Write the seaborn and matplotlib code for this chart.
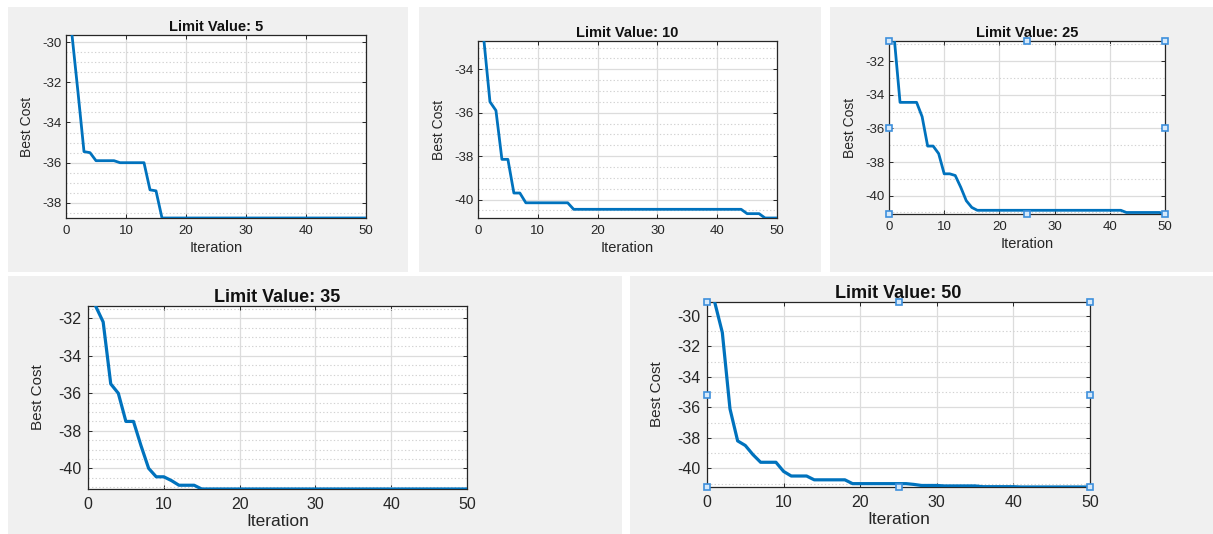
import numpy as np
import pandas as pd
import seaborn as sns
import matplotlib
matplotlib.use("Agg")
import matplotlib.pyplot as plt
from matplotlib.patches import Rectangle
from matplotlib.ticker import MultipleLocator

# ---------------- data ----------------
iterations = list(range(1, 51))

limit_values = [5, 10, 25, 35, 50]

cost_lv5 = [-29.65, -32.5, -35.45, -35.5, -35.9, -35.9, -35.9, -35.9, -36.0, -36.0,
            -36.0, -36.0, -36.0, -37.35, -37.4, -38.75, -38.75, -38.75, -38.75, -38.75,
            -38.75, -38.75, -38.75, -38.75, -38.75, -38.75, -38.75, -38.75, -38.75, -38.75,
            -38.75, -38.75, -38.75, -38.75, -38.75, -38.75, -38.75, -38.75, -38.75, -38.75,
            -38.75, -38.75, -38.75, -38.75, -38.75, -38.75, -38.75, -38.75, -38.75, -38.75]

cost_lv10 = [-32.7, -35.5, -35.9, -38.15, -38.15, -39.7, -39.7, -40.15, -40.15, -40.15,
             -40.15, -40.15, -40.15, -40.15, -40.15, -40.45, -40.45, -40.45, -40.45, -40.45,
             -40.45, -40.45, -40.45, -40.45, -40.45, -40.45, -40.45, -40.45, -40.45, -40.45,
             -40.45, -40.45, -40.45, -40.45, -40.45, -40.45, -40.45, -40.45, -40.45, -40.45,
             -40.45, -40.45, -40.45, -40.45, -40.65, -40.65, -40.65, -40.85, -40.85, -40.85]

cost_lv25 = [-30.8, -34.45, -34.45, -34.45, -34.45, -35.3, -37.05, -37.05, -37.5, -38.7,
             -38.7, -38.8, -39.5, -40.3, -40.7, -40.87, -40.87, -40.87, -40.87, -40.87,
             -40.87, -40.87, -40.87, -40.87, -40.87, -40.87, -40.87, -40.87, -40.87, -40.87,
             -40.87, -40.87, -40.87, -40.87, -40.87, -40.87, -40.87, -40.87, -40.87, -40.87,
             -40.87, -40.87, -41.0, -41.0, -41.0, -41.0, -41.0, -41.0, -41.0, -41.09]

cost_lv35 = [-31.35, -32.2, -35.5, -36.0, -37.5, -37.5, -38.8, -40.0, -40.45, -40.45,
             -40.65, -40.9, -40.9, -40.9, -41.1, -41.1, -41.1, -41.1, -41.1, -41.1,
             -41.1, -41.1, -41.1, -41.1, -41.1, -41.1, -41.1, -41.1, -41.1, -41.1,
             -41.1, -41.1, -41.1, -41.1, -41.1, -41.1, -41.1, -41.1, -41.1, -41.1,
             -41.1, -41.1, -41.1, -41.1, -41.1, -41.1, -41.1, -41.1, -41.1, -41.1]

cost_lv50 = [-29.1, -31.1, -36.1, -38.2, -38.5, -39.1, -39.6, -39.6, -39.6, -40.2,
             -40.5, -40.5, -40.5, -40.75, -40.75, -40.75, -40.75, -40.75, -41.0, -41.0,
             -41.0, -41.0, -41.0, -41.0, -41.0, -41.0, -41.05, -41.12, -41.12, -41.12,
             -41.15, -41.15, -41.15, -41.15, -41.15, -41.2, -41.2, -41.2, -41.2, -41.2,
             -41.22, -41.22, -41.22, -41.22, -41.22, -41.22, -41.22, -41.22, -41.22, -41.22]

x_ticks = [0, 10, 20, 30, 40, 50]

# ---------------- style ----------------
sns.set_theme(style="white")
plt.rcParams['font.family'] = ['Liberation Sans', 'DejaVu Sans']
plt.rcParams['axes.unicode_minus'] = False

W, H = 1213, 534
fig = plt.figure(figsize=(W / 100, H / 100), dpi=100)
fig.patch.set_facecolor("white")

LINE = "#0072BD"
PANEL = "#f0f0f0"
AXC = "#262626"

# gray panel backgrounds (pixel boxes: left, top, right, bottom)
panels_px = [(8, 7, 408, 272), (419, 7, 821, 272), (830, 7, 1213, 272),
             (8, 276, 622, 534), (630, 276, 1213, 534)]
for (l, t, r, b) in panels_px:
    fig.add_artist(Rectangle((l / W, 1 - b / H), (r - l) / W, (b - t) / H,
                             transform=fig.transFigure, facecolor=PANEL,
                             edgecolor="none", zorder=0))

# axes boxes in pixels (left, top, right, bottom)
axes_px = [(66, 35, 366, 218), (478, 41, 777, 218), (889, 41, 1165, 214),
           (88, 306, 467, 489), (707, 302, 1090, 487)]
series = [cost_lv5, cost_lv10, cost_lv25, cost_lv35, cost_lv50]
minor_steps = [0.5, 0.5, 1.0, 0.5, 1.0]
handles = [False, False, True, False, True]
big = [False, False, False, True, True]

for lv, vals, box, mstep, hd, bg in zip(limit_values, series, axes_px,
                                          minor_steps, handles, big):
    l, t, r, b = box
    ax = fig.add_axes([l / W, 1 - b / H, (r - l) / W, (b - t) / H])
    ax.set_facecolor("white")
    df = pd.DataFrame({"Iteration": iterations, "Best Cost": vals})
    sns.lineplot(data=df, x="Iteration", y="Best Cost", ax=ax, color=LINE,
                 linewidth=2.3 if bg else 2.0, zorder=5)
    ax.set_xlim(0, 50)
    ax.set_ylim(min(vals), max(vals))
    ax.set_xticks(x_ticks)
    ax.yaxis.set_major_locator(MultipleLocator(2))
    ax.yaxis.set_minor_locator(MultipleLocator(mstep))
    ax.grid(True, which="major", color="#dcdcdc", linewidth=0.9, zorder=0)
    ax.grid(True, which="minor", axis="y", color="#d2d2d2", linewidth=0.8,
            linestyle=(0, (1.2, 2.0)), zorder=0)
    ax.set_axisbelow(True)
    for s in ax.spines.values():
        s.set_visible(True)
        s.set_color(AXC)
        s.set_linewidth(0.9)
    fs_tick = 11.5 if bg else 9.5
    fs_lab = 12.5 if bg else 10.5
    fs_ylab = 11 if bg else 10
    fs_title = 13 if bg else 10.5
    ax.tick_params(axis="both", which="major", direction="in", length=3,
                   width=0.7, color=AXC, labelcolor=AXC, labelsize=fs_tick,
                   top=True, right=True, bottom=True, left=True, pad=3)
    ax.tick_params(axis="x", which="major", pad=6 if bg else 5)
    ax.tick_params(axis="y", which="major", pad=5 if bg else 3)
    ax.tick_params(axis="y", which="minor", length=0)
    ax.set_xlabel("Iteration", fontsize=fs_lab, color=AXC,
                  labelpad=1 if bg else 3)
    ax.set_ylabel("Best Cost", fontsize=fs_ylab, color=AXC,
                  labelpad=9 if bg else 6)
    ax.set_title(f"Limit Value: {lv}", fontsize=fs_title, fontweight="bold",
                 color="#111111", pad=3)
    if hd:
        hx = [0, 0.5, 1, 0, 1, 0, 0.5, 1]
        hy = [1, 1, 1, 0.5, 0.5, 0, 0, 0]
        ax.plot(hx, hy, "s", transform=ax.transAxes, clip_on=False,
                markersize=4.5, markerfacecolor="#d6e9fa",
                markeredgecolor="#3d8fdc", markeredgewidth=1.2, zorder=10)

fig.savefig("out.png", dpi=100, facecolor="white")
